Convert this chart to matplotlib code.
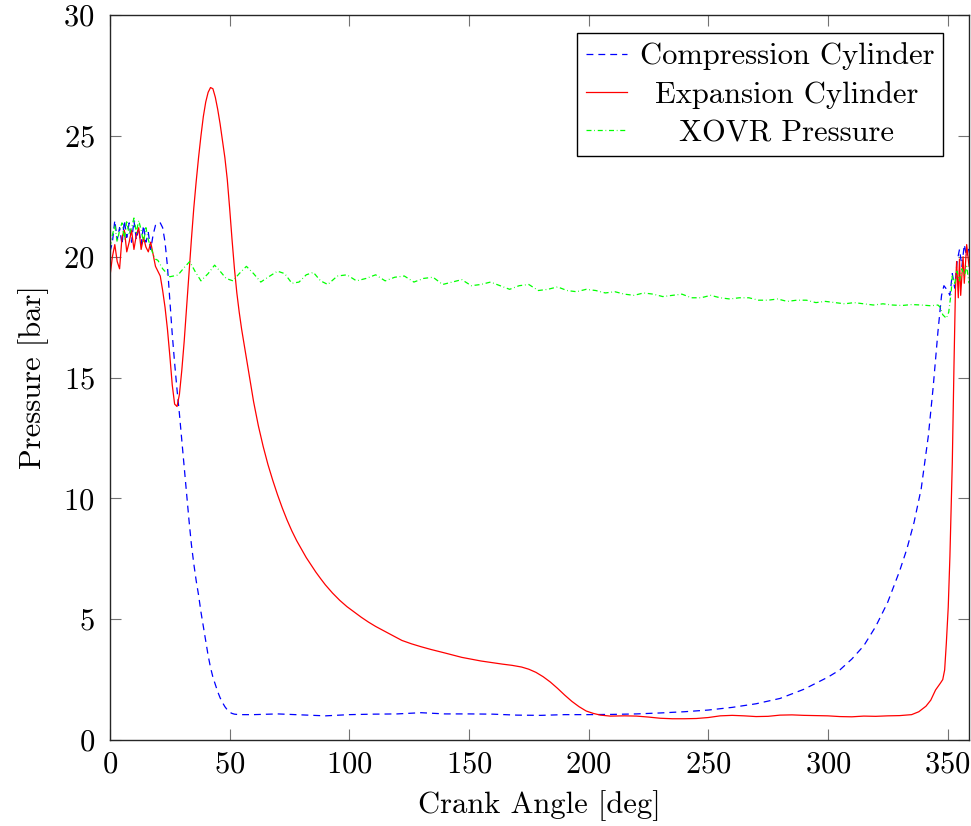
import matplotlib  # backend
matplotlib.use("Agg")
import matplotlib.pyplot as plt
from matplotlib.transforms import Affine2D

# --- data ---
comp_angle = [0, 1, 2, 3, 4, 5, 6, 7, 8, 9, 10, 11, 12, 13, 14, 15, 16, 17, 18, 19, 20,
              21, 22, 23, 24, 25, 26, 27, 28, 29, 30, 31, 32, 33, 34, 35, 36, 37, 38, 39,
              40, 41, 42, 43, 44, 45, 46, 47, 48, 49, 50, 51, 52, 54, 60, 70, 80, 90, 100,
              110, 120, 130, 140, 150, 160, 170, 180, 190, 200, 210, 220, 230, 240, 250,
              260, 270, 280, 290, 300, 305, 310, 315, 320, 325, 330, 333, 336, 339, 342,
              344, 346, 347.5, 348.5, 350, 351, 352, 353, 354, 355, 356, 357, 358, 359]
comp_p = [20.2, 20.6, 21.5, 20.7, 21.2, 20.5, 21.5, 20.8, 21.4, 20.6, 21.5, 20.7, 21.2, 20.5,
          21.3, 20.6, 21.0, 20.3, 20.9, 21.3, 21.4,
          21.4, 21.2, 20.6, 19.6, 18.2, 16.8, 15.6, 14.5, 13.5, 12.4, 11.3, 10.2, 9.1, 8.1,
          7.3, 6.6, 6.0, 5.3, 4.7, 4.1, 3.5, 3.0, 2.6, 2.3, 2.0, 1.75, 1.55, 1.38, 1.25, 1.15,
          1.1, 1.07, 1.05, 1.05, 1.08, 1.04, 1.0, 1.05, 1.07, 1.08, 1.13, 1.08, 1.08, 1.07,
          1.03, 1.02, 1.05, 1.05, 1.06, 1.08, 1.12, 1.17, 1.24, 1.35, 1.5, 1.72, 2.1, 2.6,
          2.9, 3.35, 3.9, 4.7, 5.7, 7.0, 7.9, 9.0, 10.4, 12.6, 14.6, 16.9, 18.4, 18.8, 18.6,
          18.4, 19.3, 18.7, 19.8, 20.3, 19.6, 20.5, 20.0, 20.4]

exp_angle = [0, 1, 2, 3, 4, 5, 6, 7, 8, 9, 10, 11, 12, 13, 14, 15, 16, 17, 18, 19, 20,
             21, 22, 23, 24, 25, 26, 27, 28, 29, 30, 31, 32, 33, 34, 35, 36, 37, 38, 39,
             40, 41, 42, 43, 44, 45, 46, 47, 48, 49, 50, 51, 52, 53, 54, 55, 56, 57, 58,
             59, 60, 62, 64, 66, 68, 70, 72, 74, 76, 78, 80, 82, 84, 86, 88, 90, 93, 96,
             99, 102, 105, 108, 111, 114, 118, 122, 126, 130, 134, 140, 147, 155, 164,
             168, 172, 175, 178, 181, 184, 187, 190, 193, 196, 199, 202, 205, 209, 215, 220,
             225, 230, 235, 240, 245, 250, 255, 260, 265, 270, 275, 280, 285, 290, 295,
             300, 305, 310, 315, 320, 325, 330, 335, 338, 341, 343, 345, 347, 348, 348.8,
             349.5, 350.3, 351, 352, 352.7, 353.3, 353.8, 354.5, 355, 355.5, 356.5, 357,
             358, 359]
exp_p = [19.2, 20.0, 20.5, 19.8, 19.5, 20.8, 21.1, 20.2, 20.6, 21.1, 20.3, 20.9, 21.2, 20.3,
         20.8, 20.4, 20.2, 20.6, 20.1, 19.6, 19.4,
         19.2, 18.6, 17.9, 17.0, 15.9, 14.7, 13.9, 13.8, 14.3, 15.3, 16.5, 17.9, 19.3, 20.7,
         22.0, 23.1, 24.1, 25.0, 25.8, 26.4, 26.8, 27.0, 26.95, 26.6, 26.1, 25.5, 24.8, 24.1,
         23.2, 22.0, 20.7, 19.5, 18.5, 17.7, 17.0, 16.4, 15.8, 15.2, 14.6, 14.0, 13.0, 12.15,
         11.4, 10.75, 10.15, 9.6, 9.1, 8.65, 8.25, 7.9, 7.55, 7.25, 6.95, 6.68, 6.42, 6.08,
         5.78, 5.52, 5.3, 5.08, 4.88, 4.7, 4.54, 4.33, 4.12, 3.98, 3.86, 3.75, 3.6, 3.42,
         3.27, 3.14, 3.09, 3.02, 2.93, 2.8, 2.62, 2.4, 2.14, 1.86, 1.6, 1.38, 1.2, 1.1, 1.03,
         0.99, 1.0, 0.99, 0.95, 0.9, 0.88, 0.88, 0.89, 0.93, 1.0, 1.02, 1.0, 0.97, 0.98, 1.03,
         1.04, 1.02, 1.01, 1.0, 0.97, 0.96, 0.99, 0.98, 1.0, 1.01, 1.05, 1.17, 1.4, 1.65,
         2.07, 2.35, 2.5, 2.9, 4.0, 5.5, 7.6, 11.5, 15.5, 18.6, 19.8, 18.3, 19.9, 18.4,
         20.0, 18.9, 20.5, 19.6]

xovr_angle = [0, 1, 2, 3, 4, 5, 6, 7, 8, 9, 10, 11, 12, 13, 14, 15, 16, 17, 18, 19, 20,
              22, 25, 28.4, 31, 33.3, 35.5, 38, 41, 43.7, 46, 48.5, 51.4, 54, 57, 60, 63,
              66, 70, 73, 76, 79, 82, 85, 88, 91, 95, 99, 103, 107, 111, 115, 119, 123,
              127, 131, 135, 139, 143, 147, 151, 155, 159, 163, 167, 171, 175, 179, 183,
              187, 191, 195, 199, 203, 207, 211, 215, 219, 223, 227, 231, 235, 239, 243,
              247, 251, 255, 259, 263, 267, 271, 275, 279, 283, 287, 291, 295, 299, 303,
              307, 311, 315, 319, 323, 327, 331, 335, 339, 343, 346, 347, 348, 349.5,
              350.5, 351.5, 352, 353, 354, 355, 356, 357, 358, 359]
xovr_p = [20.4, 20.9, 21.3, 20.6, 21.1, 21.4, 20.7, 21.5, 20.9, 21.2, 21.6, 21.0, 21.5, 21.1,
          20.6, 21.2, 20.7, 20.4, 20.1, 19.9, 19.85,
          19.5, 19.17, 19.24, 19.55, 19.8, 19.4, 19.0, 19.3, 19.65, 19.4, 19.1, 19.0, 19.3,
          19.6, 19.3, 18.95, 19.15, 19.4, 19.3, 18.9, 18.95, 19.25, 19.35, 19.0, 18.85,
          19.2, 19.25, 19.0, 19.1, 19.25, 19.0, 19.15, 19.2, 18.95, 19.1, 19.15, 18.85,
          18.95, 19.05, 18.8, 18.85, 18.95, 18.8, 18.65, 18.8, 18.85, 18.6, 18.65, 18.75,
          18.6, 18.55, 18.65, 18.6, 18.5, 18.55, 18.45, 18.4, 18.5, 18.45, 18.35, 18.4,
          18.45, 18.3, 18.3, 18.4, 18.3, 18.25, 18.3, 18.3, 18.2, 18.2, 18.25, 18.15, 18.2,
          18.2, 18.1, 18.15, 18.1, 18.05, 18.1, 18.05, 18.0, 18.05, 18.0, 17.98, 18.02,
          18.0, 17.97, 18.0, 17.9, 17.6, 17.45, 17.7, 18.5, 19.2, 18.9, 19.4, 19.0, 19.5,
          19.2, 19.6, 18.9]

x_ticks = [0, 50, 100, 150, 200, 250, 300, 350]
y_ticks = [0, 5, 10, 15, 20, 25, 30]

plt.rcParams["font.family"] = ["cmr10", "DejaVu Serif"]  # Computer Modern look
plt.rcParams["axes.formatter.use_mathtext"] = True
FS = 22  # font size used everywhere

fig = plt.figure(figsize=(9.71, 8.26), dpi=100)
ax = fig.add_axes([0.1133, 0.1041, 0.8847, 0.8777])

ax.plot(comp_angle, comp_p, color="#0000ff", lw=0.9, ls=(0, (5.5, 4)),
        label="Compression Cylinder")
ax.plot(exp_angle, exp_p, color="#ff0000", lw=0.9, label="Expansion Cylinder")
ax.plot(xovr_angle, xovr_p, color="#00ff00", lw=0.9, ls=(0, (4, 2.2, 0.6, 2.2)),
        label="XOVR Pressure")

ax.set_xlim(0, 359)
ax.set_ylim(0, 30)
ax.set_xticks(x_ticks)
ax.set_yticks(y_ticks)
ax.tick_params(direction="in", top=True, right=True, length=8, width=0.8,
               color="0.45", labelsize=FS)
ax.tick_params(axis="y", pad=11)
ax.tick_params(axis="x", pad=8)
for s in ax.spines.values():
    s.set_linewidth(1.0)
    s.set_color("0.15")

ax.set_xlabel("Crank Angle [deg]", fontsize=FS, labelpad=8)
ax.set_ylabel("Pressure [bar]", fontsize=FS, labelpad=10)

leg = ax.legend(loc="upper right", bbox_to_anchor=(0.97, 0.975), fontsize=FS,
                frameon=True, fancybox=False, framealpha=1, edgecolor="black",
                handlelength=1.35, handletextpad=0.4, borderpad=0.3, labelspacing=0.35,
                borderaxespad=0)
leg.get_frame().set_linewidth(1.0)

# centre legend labels like pgfplots does
fig.canvas.draw()
r = fig.canvas.get_renderer()
texts = leg.get_texts()
widths = [t.get_window_extent(r).width for t in texts]
wmax = max(widths)
for t, w in zip(texts, widths):
    t.set_transform(t.get_transform() + Affine2D().translate((wmax - w) / 2, 0))

fig.savefig("out.png", dpi=100)
